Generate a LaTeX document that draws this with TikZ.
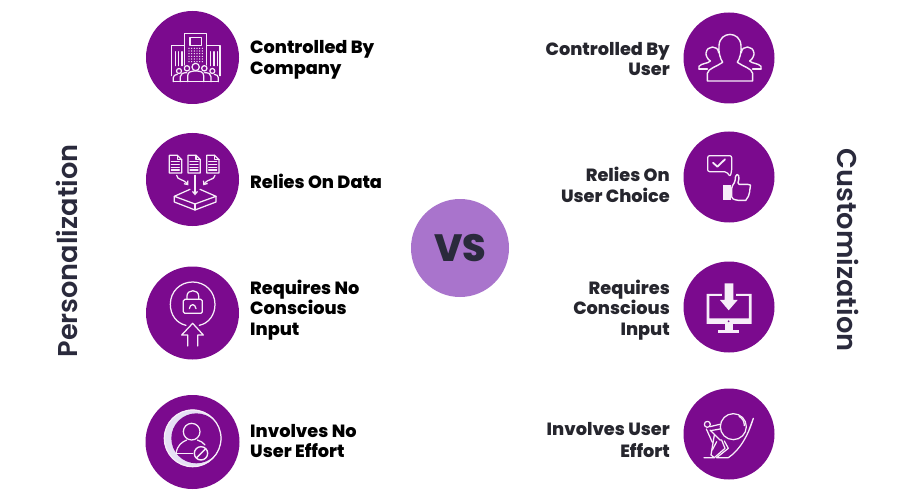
\documentclass[tikz,border=0pt]{standalone}
\usepackage{fontspec}
\usetikzlibrary{arrows.meta}
\setmainfont{Poppins}
\newfontface\lblfont{Poppins ExtraBold}
\newfontface\ttlfont{Poppins SemiBold}
\definecolor{pur}{HTML}{7B0A8E}
\definecolor{ink}{HTML}{F7EDF9}
\definecolor{lav}{HTML}{A974CC}
\definecolor{dk}{HTML}{2A2A3C}
\definecolor{dkr}{HTML}{26262E}
\definecolor{cres}{HTML}{E6E0F5}
\tikzset{
 badge/.style={circle,fill=pur,inner sep=0pt,minimum size=#1*2pt},
 lbl/.style={font=\fontsize{17.7}{20.6}\lblfont,inner sep=0pt},
 lleft/.style={lbl,text=black,anchor=west,align=left},
 lright/.style={lbl,text=dkr,anchor=east,align=right},
 ttl/.style={font=\fontsize{27.2}{30}\ttlfont,text=dk,inner sep=0pt},
 ic/.style={draw=ink,line width=1.25pt,line join=round,line cap=round},
 zm/.style={shift={#1},x=0.3333pt,y=-0.3333pt}
}
\begin{document}
\begin{tikzpicture}[x=1pt,y=-1pt]
\useasboundingbox[fill=white] (0,0) rectangle (900,500);
\node[badge=46.5] (b1) at (192.5,57.5) {};
\node[badge=46.5] (b2) at (192.5,179.5) {};
\node[badge=46.5] (b3) at (192.5,313) {};
\node[badge=47] (b4) at (192.5,442) {};
\node[badge=45.5] (c1) at (729,58) {};
\node[badge=45.5] (c2) at (729,177) {};
\node[badge=45.5] (c3) at (729,307) {};
\node[badge=45.5] (c4) at (729,434) {};
\node[circle,fill=lav,inner sep=0pt,minimum size=98pt] (vs) at (460,248) {};
\node[font=\fontsize{38}{42}\lblfont,text=dk,inner sep=0pt] (vst) at (460,248) {VS};
\node[ttl,rotate=90] (tp) at (67,251) {Personalization};
\node[ttl,rotate=-90] (tc) at (848,250) {Customization};
\node[lleft] (l1) at (250,60) {Controlled By\\Company};
\node[lleft] (l2) at (250,181) {Relies On Data};
\node[lleft] (l3) at (250,310) {Requires No\\Conscious\\Input};
\node[lleft] (l4) at (250,441) {Involves No\\User Effort};
\node[lright] (r1) at (670,59) {Controlled By\\User};
\node[lright] (r2) at (670,185) {Relies On\\User Choice};
\node[lright] (r3) at (670,310) {Requires\\Conscious\\Input};
\node[lright] (r4) at (670,440) {Involves User\\[1.5pt]Effort};
% icon 1
\begin{scope}[zm={(140,5)}]
\draw[ic] (133,122) -- (133,86) -- (200,86) -- (200,122);
\draw[ic] (133,180) -- (133,122) -- (95,122) -- (95,212);
\draw[ic] (200,180) -- (200,122) -- (240,122) -- (240,212);
\draw[ic] (150,98) rectangle (185,122);
\foreach \y in {130,138,146,154,162,170} \foreach \x in {147,155,163,171,179,187} \fill[ink] (\x,\y) circle (2.2);
\foreach \x in {106,116,126,212,222,232} \draw[ic] (\x,140) -- (\x,182);
\draw[ic,fill=pur] (143,230) -- (143,212) .. controls (143,200) and (155,198) .. (167,198) .. controls (179,198) and (191,200) .. (191,212) -- (191,230);
\draw[ic,fill=pur] (167,186) circle (11);
\draw[ic] (121,230) -- (121,215) .. controls (121,207) and (128,203) .. (140,203);
\draw[ic] (213,230) -- (213,215) .. controls (213,207) and (206,203) .. (194,203);
\draw[ic,fill=pur] (141,190) circle (8);
\draw[ic,fill=pur] (193,190) circle (8);
\draw[ic] (100,230) -- (100,218) .. controls (100,212) and (105,209) .. (112,208);
\draw[ic] (235,230) -- (235,218) .. controls (235,212) and (230,209) .. (223,208);
\draw[ic,fill=pur] (117,198) circle (7.5);
\draw[ic,fill=pur] (217,198) circle (7.5);
\draw[ic] (100,230) -- (235,230);
\end{scope}
% icon 2
\begin{scope}[zm={(140,128)}]
\foreach \dx in {0,56,112}{
 \begin{scope}[xshift=\dx*0.3333pt]
 \draw[ic] (88,82) -- (112,82) -- (125,95) -- (125,135) -- (88,135) -- cycle;
 \draw[ic] (112,82) -- (112,95) -- (125,95);
 \draw[ic] (94,100) -- (118,100) (94,109) -- (118,109) (94,118) -- (118,118) (94,126) -- (118,126);
 \end{scope}}
\draw[ic,-{Straight Barb[length=3pt,width=5pt]}] (110,142) .. controls (112,158) and (128,150) .. (145,172);
\draw[ic,-{Straight Barb[length=3pt,width=5pt]}] (165,142) -- (165,202);
\draw[ic,-{Straight Barb[length=3pt,width=5pt]}] (225,142) .. controls (222,158) and (205,150) .. (190,172);
\draw[ic] (150,184) -- (103,205) -- (165,228) -- (228,205) -- (180,184);
\draw[ic] (103,205) -- (103,222) -- (165,246) -- (228,222) -- (228,205);
\draw[ic] (165,228) -- (165,246);
\end{scope}
% icon 3
\begin{scope}[zm={(140,260)}]
\draw[ic] (138,196) .. controls (110,190) and (91,165) .. (91,133) .. controls (91,95) and (120,66) .. (158,66) .. controls (196,66) and (225,95) .. (225,133) .. controls (225,165) and (206,190) .. (178,196);
\draw[ic] (143,258) -- (143,225) -- (125,225) -- (158,190) -- (190,225) -- (173,225) -- (173,258);
\draw[ic,rounded corners=1.5pt] (130,118) rectangle (187,160);
\draw[ic] (141,118) -- (141,108) .. controls (141,87) and (176,87) .. (176,108) -- (176,118);
\draw[ic] (148,146) .. controls (150,130) and (166,130) .. (168,146);
\end{scope}
% icon 4
\begin{scope}[zm={(140,390)}]
\fill[cres] (158,145) circle (86);
\fill[pur] (169,145) circle (75);
\draw[ic] (158,145) circle (85);
\draw[ic] (155,125) circle (25);
\draw[ic] (108,191) .. controls (112,165) and (125,157) .. (140,150);
\draw[ic] (108,191) -- (158,191);
\draw[ic] (172,150) .. controls (182,153) and (190,158) .. (195,165);
\draw[ic,fill=pur,line width=1.4pt] (183,190) circle (20);
\draw[ic,line width=1.4pt] (169,204) -- (197,176);
\end{scope}
% icon 5
\begin{scope}[zm={(675,5)}]
\draw[ic,line width=1.4pt] (72,192) -- (72,184) .. controls (80,174) and (100,176) .. (106,168) .. controls (96,162) and (92,148) .. (93,145) .. controls (95,120) and (130,120) .. (131,143);
\draw[ic,line width=1.4pt] (258,192) -- (258,184) .. controls (250,174) and (230,176) .. (224,168) .. controls (234,162) and (238,148) .. (237,145) .. controls (235,120) and (200,120) .. (199,143);
\draw[ic,line width=1.4pt] (72,192) -- (97,192) (258,192) -- (233,192);
\draw[ic,line width=1.4pt] (97,228) -- (97,205) .. controls (100,190) and (125,185) .. (143,172) .. controls (135,160) and (130,140) .. (132,122) .. controls (134,77) and (196,77) .. (198,122) .. controls (200,140) and (195,160) .. (187,172) .. controls (205,185) and (230,190) .. (233,205) -- (233,228) -- cycle;
\end{scope}
% icon 6
\begin{scope}[zm={(675,125)}]
\draw[ic,rounded corners=2pt] (165,155) -- (155,140) -- (98,140) -- (98,92) -- (170,92) -- (170,140) -- cycle;
\draw[ink,line width=1.8pt,line cap=round,line join=round] (114,113) -- (127,125) -- (150,103);
\fill[ink] (145,180) rectangle (167,225);
\draw[ic,line width=1.4pt,rounded corners=1.5pt] (170,186) -- (180,170) -- (182,150) .. controls (190,147) and (193,155) .. (191,165) -- (188,178) -- (222,178) .. controls (226,180) and (226,190) .. (221,192) .. controls (225,196) and (224,203) .. (219,205) .. controls (222,209) and (220,215) .. (215,216) .. controls (216,221) and (212,226) .. (208,226) -- (185,226) -- (170,220) -- cycle;
\end{scope}
% icon 7
\begin{scope}[zm={(675,255)}]
\fill[ink,even odd rule] (95,117) rectangle (230,207) (103,123) rectangle (222,190);
\fill[pur] (161,199) circle (3);
\fill[ink] (150,207) rectangle (174,225);
\fill[ink] (130,225) -- (193,225) -- (193,233) -- (130,233) -- cycle;
\fill[pur] (140,105) rectangle (183,125);
\fill[ink] (149,85) -- (175,85) -- (175,135) -- (188,135) -- (161,166) -- (135,135) -- (149,135) -- cycle;
\end{scope}
% icon 8
\begin{scope}[zm={(675,385)}]
\draw[ic] (175,125) circle (39);
\draw[ic] (192,94) .. controls (203,100) and (208,110) .. (208,122);
\draw[ic] (97,118) circle (9);
\draw[ic] (87,218) -- (118,218) -- (150,190) -- (140,165) -- (135,165) -- (105,135);
\draw[ic] (105,125) -- (134,118);
\draw[ic] (107,137) -- (135,132);
\draw[ic] (118,150) -- (108,210) -- (118,218);
\draw[ic] (125,170) -- (112,195);
\draw[ic] (148,168) -- (160,190) -- (125,218);
\draw[ic] (125,218) -- (160,218) .. controls (195,195) and (220,150) .. (235,100) -- (222,135);
\draw[ic] (94,132) -- (112,172);
\end{scope}
\end{tikzpicture}
\end{document}
